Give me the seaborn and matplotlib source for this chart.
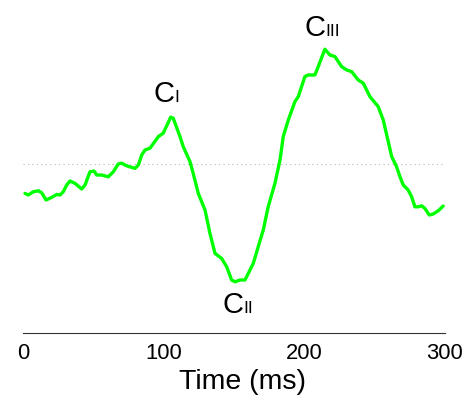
import matplotlib
matplotlib.use('Agg')
import matplotlib.pyplot as plt
import seaborn as sns
import pandas as pd

# Dados (tempo em ms, amplitude em unidades arbitrárias)
time_ms = [1.4, 3.8, 7.3, 10.9, 13.3, 16.4, 20.4, 24.0, 26.3, 28.6,
           31.1, 33.4, 37.0, 41.7, 44.1, 47.6, 50.5, 52.4, 55.9, 60.6,
           64.2, 67.7, 70.2, 73.7, 79.6, 82.0, 84.4, 86.7, 90.3, 96.2,
           99.7, 105.0, 106.8, 111.6, 113.9, 118.7, 121.0, 124.6, 129.4, 132.9,
           136.5, 141.2, 144.8, 148.3, 150.7, 154.2, 157.8, 163.7, 167.2, 170.8,
           174.3, 179.1, 182.7, 185.0, 188.6, 193.3, 195.7, 200.4, 202.8, 207.5,
           209.9, 214.6, 218.2, 221.8, 226.5, 230.1, 233.6, 238.3, 241.9, 246.6,
           252.5, 256.1, 262.1, 265.6, 268.0, 270.3, 273.8, 276.3, 278.6, 281.0,
           283.4, 285.7, 288.8, 291.6, 295.2, 298.7]
amplitude = [-1.47, -1.55, -1.39, -1.34, -1.44, -1.80, -1.67, -1.52, -1.55, -1.39,
             -1.05, -0.85, -0.97, -1.25, -1.05, -0.39, -0.35, -0.55, -0.55, -0.64,
             -0.39, 0.00, 0.04, -0.09, -0.22, -0.05, 0.45, 0.70, 0.79, 1.37,
             1.54, 2.34, 2.29, 1.37, 0.87, 0.12, -0.47, -1.47, -2.30, -3.47,
             -4.47, -4.72, -5.14, -5.80, -5.89, -5.80, -5.80, -4.97, -4.14, -3.30,
             -2.14, -0.97, 0.20, 1.37, 2.20, 3.12, 3.37, 4.37, 4.45, 4.45,
             4.87, 5.74, 5.45, 5.37, 4.87, 4.70, 4.62, 4.20, 4.04, 3.37,
             2.87, 2.20, 0.37, -0.14, -0.64, -1.05, -1.30, -1.64, -2.14, -2.14,
             -2.09, -2.22, -2.55, -2.50, -2.34, -2.10]

# Rótulos dos componentes: letra, índice romano, posição (t, y)
comp_names = ['C', 'C', 'C']
comp_subs = ['I', 'II', 'III']
comp_t = [107.4, 157.0, 214.8]
comp_y = [3.08, -7.47, 6.38]

x_ticks = [0, 100, 200, 300]

sns.set_style('white')
plt.rcParams['font.family'] = ['Liberation Sans', 'DejaVu Sans']

df = pd.DataFrame({'t': time_ms, 'amp': amplitude})

fig = plt.figure(figsize=(4.64, 3.97), dpi=100)
ax = fig.add_axes([23 / 464, 64 / 397, 422 / 464, 323 / 397])

ax.axhline(0, color='#b4b4b4', linestyle=(0, (1, 3)), linewidth=0.8, zorder=1)
sns.lineplot(data=df, x='t', y='amp', color='#00ff00', linewidth=2.4, ax=ax, zorder=2)

for name, sub, t, y in zip(comp_names, comp_subs, comp_t, comp_y):
    ax.text(t, y, name, fontsize=21, ha='right', va='baseline', color='black')
    ax.text(t, y, sub, fontsize=12.5, ha='left', va='baseline', color='black')

ax.set_xlim(0, 300)
ax.set_ylim(-8.45, 7.7)
ax.set_xticks(x_ticks)
ax.set_yticks([])
ax.set_xlabel('Time (ms)', fontsize=20.5, labelpad=3.5, color='black')
ax.xaxis.label.set_x(0.52)
ax.set_ylabel('')

for side in ['left', 'top', 'right']:
    ax.spines[side].set_visible(False)
ax.spines['bottom'].set_color('#333333')
ax.spines['bottom'].set_linewidth(0.8)
ax.tick_params(axis='x', direction='in', length=2.5, width=0.8, color='#333333',
               labelsize=15.8, labelcolor='black', pad=7.5)

plt.savefig('out.png', dpi=100)
plt.close(fig)
